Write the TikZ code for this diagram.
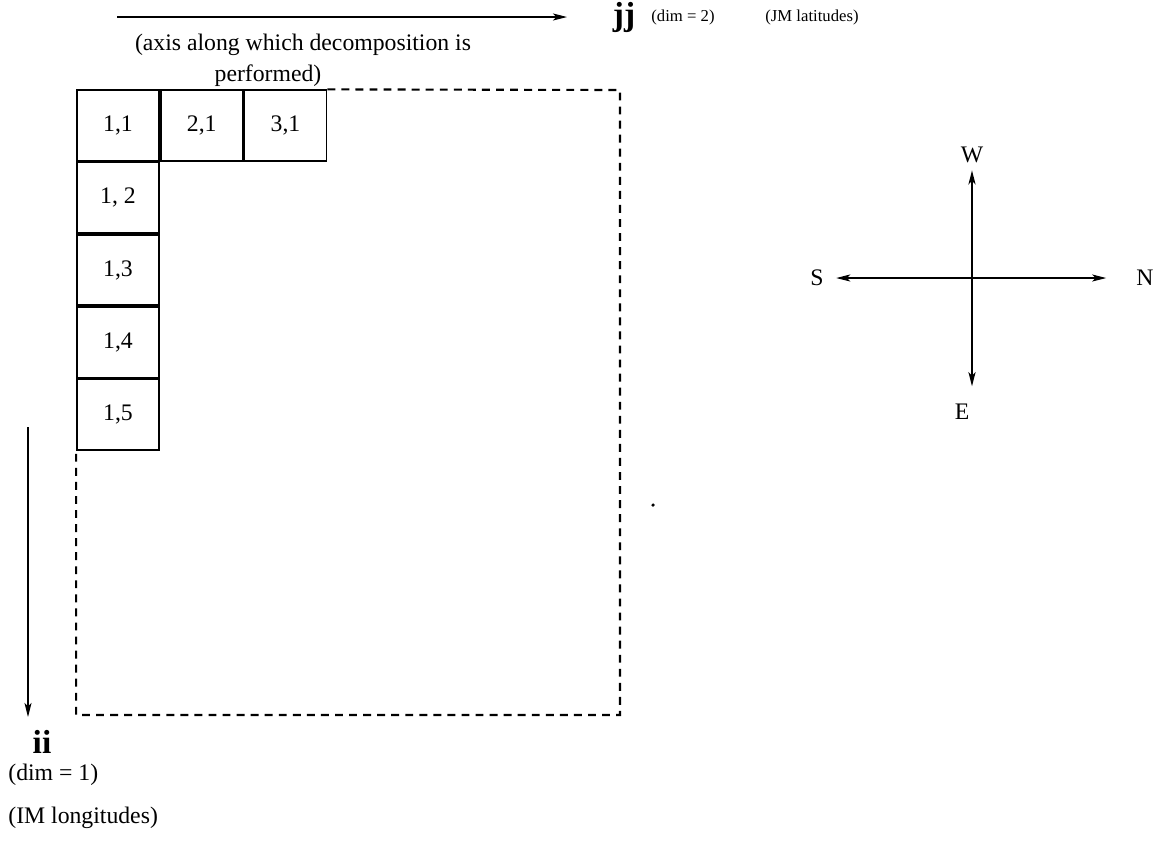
\documentclass[tikz,border=0pt]{standalone}
\usepackage{fontspec}
\setmainfont{Liberation Serif}
\usetikzlibrary{arrows.meta,positioning}
\tikzset{
  cell/.style={draw,line width=1pt,minimum width=1.64cm,minimum height=1.41cm,inner sep=0pt,font=\fontsize{13.5}{15}\selectfont},
  txt/.style={inner sep=0pt,font=\fontsize{13.5}{15}\selectfont},
  small/.style={inner sep=0pt,anchor=base,font=\fontsize{9.5}{11}\selectfont},
  big/.style={inner sep=0pt,anchor=base,font=\fontsize{19}{21}\selectfont\bfseries},
  compass/.style={inner sep=2pt,font=\fontsize{13.5}{15}\selectfont}
}
\begin{document}
\begin{tikzpicture}[x=0.02cm,y=-0.02cm,>={Stealth[length=8pt,width=4pt,inset=2pt]}]
    \useasboundingbox (0,0) rectangle (1161,843);
    % jj axis
    \coordinate (jstart) at (117,17);
    \coordinate (jend) at (567,17);
    \draw[line width=0.6pt,->] (jstart) -- (jend);
    \node[big] (jj) at (624,25) {jj};
    \node[small] (jdim) at (683,21) {(dim = 2)};
    \node[small] (jlat) at (812,21) {(JM latitudes)};
    \node[txt] (axis) at (303,45) {(axis along which decomposition is};
    \node[txt] (perf) at (268,76) {performed)};
    % blocks
    \node[cell] (c11) at (118,125.5) {1,1};
    \node[cell,right=0pt of c11] (c21) {2,1};
    \node[cell,right=0pt of c21] (c31) {3,1};
    \node[cell,below=0pt of c11] (c12) {1, 2};
    \node[cell,below=0pt of c12] (c13) {1,3};
    \node[cell,below=0pt of c13] (c14) {1,4};
    \node[cell,below=0pt of c14] (c15) {1,5};
    \coordinate (dne) at (620,90);
    \coordinate (dse) at (620,715);
    \draw[line width=1.2pt,dash pattern=on 4.5pt off 3.5pt] (c31.north east) -- (dne) -- (dse) -- (c15.south west |- dse) -- (c15.south west);
    \fill (653,505) circle (1pt);
    % ii axis
    \coordinate (istart) at (28,427);
    \coordinate (iend) at (28,717);
    \draw[line width=0.8pt,->] (istart) -- (iend);
    \node[big] (ii) at (42,753) {ii};
    \node[txt,anchor=west] (idim) at (8,775) {(dim = 1)};
    \node[txt,anchor=west] (ilon) at (8,818) {(IM longitudes)};
    % compass
    \node[compass] (W) at (972,155) {W};
    \node[compass] (E) at (962,412) {E};
    \node[compass] (S) at (817,278) {S};
    \node[compass] (N) at (1145,278) {N};
    \draw[line width=0.6pt,<->,shorten <=5pt,shorten >=15pt] (S) -- (N);
    \draw[line width=1.2pt,<->,shorten <=2pt,shorten >=8pt] (W.south) -- (W.south |- E.north);
\end{tikzpicture}
\end{document}
